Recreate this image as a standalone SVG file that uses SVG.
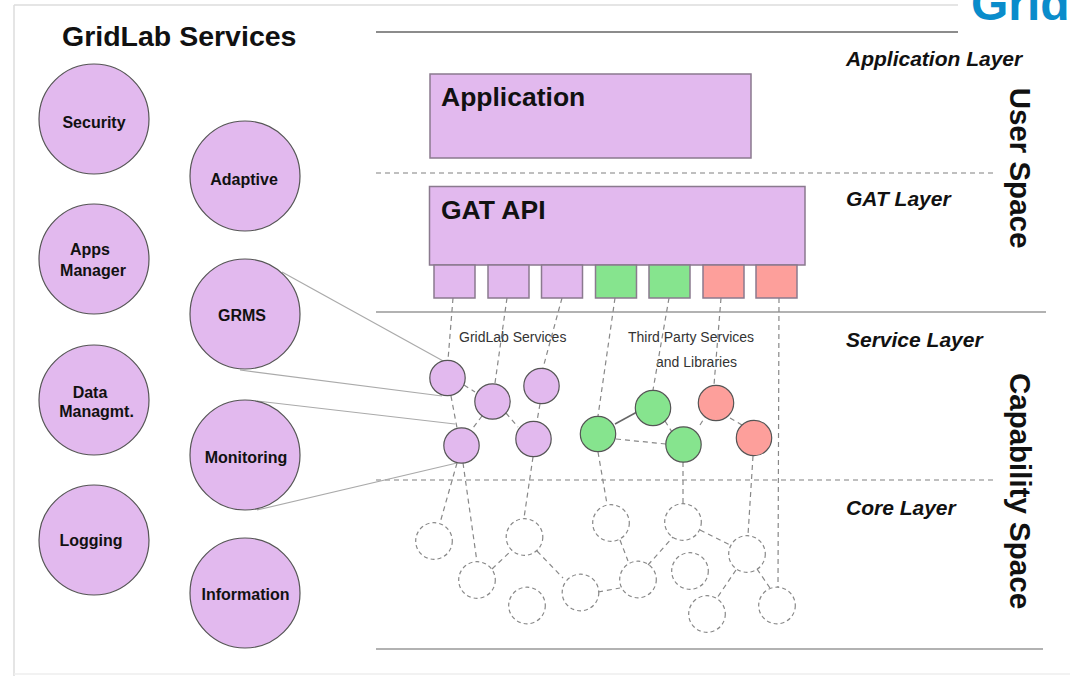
<svg xmlns="http://www.w3.org/2000/svg" width="1070" height="676" viewBox="0 0 1070 676">
<style>
text{font-family:"Liberation Sans",Arial,sans-serif;fill:#111}
.svc{fill:#e2b9ee;stroke:#555;stroke-width:1.2}
.grn{fill:#86e48e;stroke:#555;stroke-width:1.2}
.red{fill:#fd9f9b;stroke:#555;stroke-width:1.2}
.box{stroke:#8a7a8e;stroke-width:1.5}
.core{fill:none;stroke:#888;stroke-width:1.2;stroke-dasharray:4 3}
.lbl{font-size:16px;font-weight:bold;text-anchor:middle}
.layer{font-size:21px;font-weight:bold;font-style:italic}
.space{font-size:29.5px;font-weight:bold;text-anchor:middle}
.small{font-size:14px;fill:#333}
.dash{stroke:#888;stroke-width:1.2;stroke-dasharray:5 4;fill:none}
.thin{stroke:#aaa;stroke-width:1.2;fill:none}
</style>
<rect width="1070" height="676" fill="#fff"/>
<g id="frame" fill="none">
<line x1="14" y1="5" x2="958" y2="5" stroke="#ddd" stroke-width="1.5"/>
<line x1="14" y1="5" x2="14" y2="676" stroke="#ddd" stroke-width="1.5"/>
<line x1="14" y1="674" x2="1070" y2="674" stroke="#eee" stroke-width="1.5"/>
<line x1="376" y1="32" x2="958" y2="32" stroke="#666" stroke-width="1.5"/>
<line x1="376" y1="173" x2="994" y2="173" stroke="#aaa" stroke-width="1.5" stroke-dasharray="5 4"/>
<line x1="376" y1="312" x2="1046" y2="312" stroke="#999" stroke-width="1.5"/>
<line x1="376" y1="480" x2="994" y2="480" stroke="#aaa" stroke-width="1.5" stroke-dasharray="5 4"/>
<line x1="376" y1="649" x2="1043" y2="649" stroke="#999" stroke-width="1.5"/>
</g>
<text x="971" y="20" style="font-size:48px;font-weight:bold;fill:#0a8ccb">Grid</text>
<text x="62" y="46" style="font-size:28.5px;font-weight:bold">GridLab Services</text>
<text class="layer" x="846" y="66">Application Layer</text>
<text class="layer" x="846" y="206">GAT Layer</text>
<text class="layer" x="846" y="347">Service Layer</text>
<text class="layer" x="846" y="515">Core Layer</text>
<text class="space" transform="translate(1010,168) rotate(90)">User Space</text>
<text class="space" transform="translate(1010,491) rotate(90)">Capability Space</text>
<text class="small" x="459" y="342">GridLab Services</text>
<text class="small" x="628" y="342">Third Party Services</text>
<text class="small" x="656" y="367">and Libraries</text>

<g id="connectors">
<line class="thin" x1="282" y1="272" x2="445" y2="362"/>
<line class="thin" x1="240" y1="370" x2="442" y2="396"/>
<line class="thin" x1="257" y1="401" x2="455" y2="424"/>
<line class="thin" x1="257" y1="510" x2="457" y2="463"/>
<line class="dash" x1="453" y1="298" x2="448" y2="360"/>
<line class="dash" x1="507" y1="298" x2="495" y2="383"/>
<line class="dash" x1="562" y1="298" x2="543" y2="368"/>
<line class="dash" x1="615" y1="298" x2="598" y2="416"/>
<line class="dash" x1="669" y1="298" x2="653" y2="390"/>
<line class="dash" x1="721" y1="298" x2="714" y2="385"/>
<line class="dash" x1="779" y1="298" x2="778" y2="587"/>
<line class="dash" x1="451" y1="396" x2="457" y2="428"/>
<line class="dash" x1="464" y1="385" x2="475" y2="392"/>
<line class="dash" x1="482" y1="416" x2="473" y2="428"/>
<line class="dash" x1="506" y1="413" x2="518" y2="427"/>
<line class="dash" x1="540" y1="404" x2="537" y2="421"/>
<line x1="615" y1="424" x2="637" y2="412" stroke="#666" stroke-width="1.5"/>
<line class="dash" x1="616" y1="439" x2="666" y2="444"/>
<line class="dash" x1="665" y1="421" x2="672" y2="432"/>
<line class="dash" x1="700" y1="425" x2="705" y2="417"/>
<line class="dash" x1="730" y1="418" x2="742" y2="425"/>
<line class="dash" x1="457" y1="463" x2="440" y2="523"/>
<line class="dash" x1="463" y1="463" x2="477" y2="562"/>
<line class="dash" x1="533" y1="457" x2="524" y2="518"/>
<line class="dash" x1="598" y1="452" x2="607" y2="504"/>
<line class="dash" x1="683" y1="462" x2="683" y2="504"/>
<line class="dash" x1="753" y1="456" x2="748" y2="535"/>
<line class="dash" x1="492" y1="569" x2="512" y2="550"/>
<line class="dash" x1="537" y1="551" x2="563" y2="578"/>
<line class="dash" x1="598" y1="592" x2="620" y2="588"/>
<line class="dash" x1="620" y1="540" x2="628" y2="561"/>
<line class="dash" x1="648" y1="565" x2="673" y2="537"/>
<line class="dash" x1="700" y1="530" x2="730" y2="545"/>
<line class="dash" x1="736" y1="570" x2="717" y2="598"/>
<line class="dash" x1="757" y1="569" x2="770" y2="588"/>
</g>

<g id="security"><circle class="svc" cx="94" cy="119" r="55"/><text class="lbl" x="94" y="128">Security</text></g>
<g id="apps-manager"><circle class="svc" cx="94" cy="259" r="55"/><text class="lbl" x="90" y="255">Apps</text><text class="lbl" x="93" y="276">Manager</text></g>
<g id="data-managmt"><circle class="svc" cx="94" cy="400" r="55"/><text class="lbl" x="90" y="398">Data</text><text class="lbl" x="96.5" y="417">Managmt.</text></g>
<g id="logging"><circle class="svc" cx="94" cy="540" r="55"/><text class="lbl" x="91" y="546">Logging</text></g>
<g id="adaptive"><circle class="svc" cx="245" cy="176" r="55"/><text class="lbl" x="244" y="185">Adaptive</text></g>
<g id="grms"><circle class="svc" cx="245" cy="314" r="55"/><text class="lbl" x="242" y="321">GRMS</text></g>
<g id="monitoring"><circle class="svc" cx="245" cy="455" r="55"/><text class="lbl" x="246" y="463">Monitoring</text></g>
<g id="information"><circle class="svc" cx="245" cy="593" r="55"/><text class="lbl" x="245.5" y="600">Information</text></g>

<g id="application"><rect class="box" x="430" y="74" width="321" height="84" fill="#e2b9ee"/><text x="441" y="106" style="font-size:26.5px;font-weight:bold">Application</text></g>
<g id="gat-api"><rect class="box" x="429.5" y="186.5" width="375.5" height="78.5" fill="#e2b9ee"/><text x="441" y="219" style="font-size:26.5px;font-weight:bold">GAT API</text></g>
<g id="adaptors">
<rect class="box" x="434" y="265" width="41" height="33" fill="#e2b9ee"/>
<rect class="box" x="488" y="265" width="41" height="33" fill="#e2b9ee"/>
<rect class="box" x="541.5" y="265" width="41" height="33" fill="#e2b9ee"/>
<rect class="box" x="595.5" y="265" width="41" height="33" fill="#86e48e"/>
<rect class="box" x="649" y="265" width="41" height="33" fill="#86e48e"/>
<rect class="box" x="703" y="265" width="41" height="33" fill="#fd9f9b"/>
<rect class="box" x="756" y="265" width="41" height="33" fill="#fd9f9b"/>
</g>

<g id="service-nodes">
<circle class="svc" cx="447.5" cy="378" r="17.7"/>
<circle class="svc" cx="492.5" cy="401.5" r="17.7"/>
<circle class="svc" cx="541.5" cy="386" r="17.7"/>
<circle class="svc" cx="461.5" cy="445.5" r="17.7"/>
<circle class="svc" cx="533.5" cy="439" r="17.7"/>
<circle class="grn" cx="598" cy="434" r="17.7"/>
<circle class="grn" cx="653" cy="408" r="17.7"/>
<circle class="grn" cx="683.5" cy="444.5" r="17.7"/>
<circle class="red" cx="716" cy="403" r="17.7"/>
<circle class="red" cx="754" cy="438" r="17.7"/>
</g>

<g id="core-nodes">
<circle class="core" cx="434" cy="541" r="18.3"/>
<circle class="core" cx="477" cy="580" r="18.3"/>
<circle class="core" cx="524.5" cy="537" r="18.3"/>
<circle class="core" cx="527" cy="605.5" r="18.3"/>
<circle class="core" cx="580.5" cy="592.5" r="18.3"/>
<circle class="core" cx="611" cy="523" r="18.3"/>
<circle class="core" cx="638" cy="579.5" r="18.3"/>
<circle class="core" cx="683" cy="522" r="18.3"/>
<circle class="core" cx="690" cy="571" r="18.3"/>
<circle class="core" cx="747" cy="554" r="18.3"/>
<circle class="core" cx="707" cy="614" r="18.3"/>
<circle class="core" cx="777" cy="605.5" r="18.3"/>
</g>
</svg>
